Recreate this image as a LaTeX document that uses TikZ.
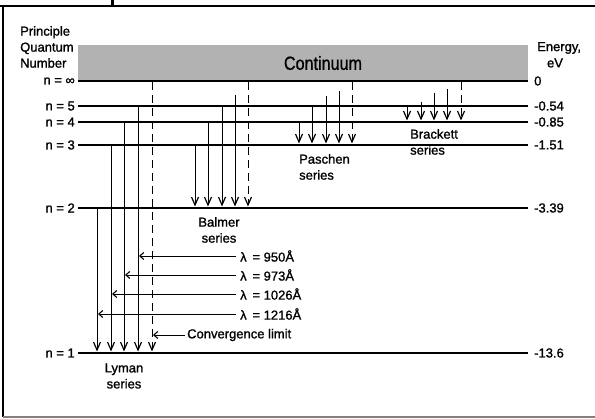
\documentclass[tikz,border=0pt]{standalone}
\usepackage{fontspec}
\setmainfont{Liberation Sans}
\newfontfamily\labfont{Liberation Sans}[FakeBold=1.2]
\newfontfamily\contfont{Liberation Sans}[FakeStretch=0.85,FakeBold=0.8]
\usetikzlibrary{arrows.meta}
\begin{document}
\begin{tikzpicture}[x=1pt,y=-1pt,
  level/.style={line width=2.2pt},
  trans/.style={line width=0.9pt,-{Straight Barb[length=8pt,width=7pt,line width=1.2pt]}},
  limit/.style={trans,dash pattern=on 8pt off 5pt},
  wave/.style={line width=0.9pt,-{Straight Barb[length=4pt,width=7pt,line width=1.1pt]}},
  lbl/.style={font=\labfont\fontsize{13}{16}\selectfont,inner sep=0pt},
  big/.style={font=\contfont\fontsize{19}{22}\selectfont,inner sep=0pt},
  frame/.style={line width=2pt}
]
\useasboundingbox (0,0) rectangle (595,419);
% frame
\draw[frame] (0,6) -- (595,6);
\draw[line width=3pt] (112,0) -- (112,6);
\draw[frame] (3,6) -- (3,417);
\draw[line width=1.5pt,black!50] (3,417) -- (595,417);
% continuum
\fill[black!30] (78,45) rectangle (528,81);
\node[big] (cont) at (323,63) {Continuum};
% headers
\node[lbl,anchor=west,align=left] (pqn) at (20,47) {Principle\\Quantum\\Number};
\node[lbl,anchor=west] (energy) at (537,48) {Energy,};
\node[lbl] (ev) at (555,63) {eV};
% levels
\foreach \nm/\yy/\nl/\en in {inf/81/{n = ∞}/0, 5/106/{n = 5}/-0.54, 4/122/{n = 4}/-0.85, 3/145/{n = 3}/-1.51, 2/208/{n = 2}/-3.39, 1/353/{n = 1}/-13.6}{
  \coordinate (L\nm) at (78,\yy);
  \coordinate (R\nm) at (528,\yy);
  \draw[level] (L\nm) -- (R\nm);
  \node[lbl,anchor=east] (n\nm) at (75,\yy) {\nl};
  \node[lbl,anchor=west] (e\nm) at (534,\yy) {\en};
}
% transitions
\foreach \x/\ya/\yb in {97/208/351.5, 111/145/351.5, 124/122/351.5, 138/106/351.5,
  195/145/206.5, 208/122/206.5, 222/106/206.5, 235/95/206.5,
  299/122/143.5, 312/106/143.5, 326/96/143.5, 339/91/143.5,
  407/106/120.5, 421/102/120.5, 434/93/120.5, 447/89/120.5}{
  \coordinate (ta) at (\x,\ya);
  \coordinate (tb) at (\x,\yb);
  \draw[trans] (ta) -- (tb);
}
\foreach \x/\yb in {152/351.5, 248/206.5, 352/143.5, 461/120.5}{
  \coordinate (da) at (\x,82);
  \coordinate (db) at (\x,\yb);
  \draw[limit] (da) -- (db);
}
% series labels
\node[lbl,align=center] (lyman) at (124,376) {Lyman\\series};
\node[lbl,align=center] (balmer) at (219,230) {Balmer\\series};
\node[lbl,anchor=west,align=left] (paschen) at (299,167) {Paschen\\series};
\node[lbl,anchor=west,align=left] (brackett) at (410,142) {Brackett\\series};
% wavelengths
\foreach \nm/\yy/\tx/\wl in {a/256/139/950, b/275/125/973, c/294/112/1026, d/314/98/1216}{
  \node[lbl,anchor=west] (w\nm) at (240,\yy) {λ\,\ =\ \wl Å};
  \coordinate (wt\nm) at (\tx,\yy);
  \draw[wave] (w\nm.west) ++(-4,0) -- (wt\nm);
}
\node[lbl,anchor=west] (conv) at (187,335) {Convergence limit};
\coordinate (ct) at (153,335);
\draw[wave] (conv.west) ++(-2,0) -- (ct);
\end{tikzpicture}
\end{document}
